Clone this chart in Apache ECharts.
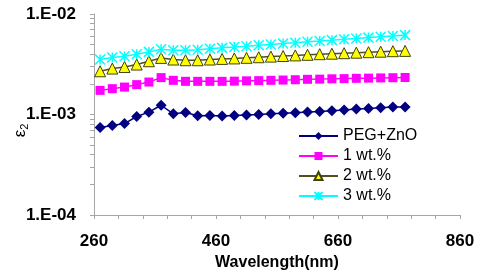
<!DOCTYPE html>
<html><head><meta charset="utf-8">
<script src="https://cdn.jsdelivr.net/npm/echarts@6/dist/echarts.min.js"></script>
<style>html,body{margin:0;padding:0;background:#fff}#c{width:480px;height:275px}</style>
</head><body><div id="c"></div>
<script>
const wavelengths = [270,290,310,330,350,370,390,410,430,450,470,490,510,530,550,570,590,610,630,650,670,690,710,730,750,770];
const pegZnO = [7.41e-4,7.76e-4,8.13e-4,9.55e-4,1.055e-3,1.236e-3,1.016e-3,1.047e-3,9.70e-4,9.77e-4,9.66e-4,9.77e-4,9.88e-4,1.0e-3,1.016e-3,1.028e-3,1.042e-3,1.059e-3,1.072e-3,1.091e-3,1.111e-3,1.132e-3,1.148e-3,1.170e-3,1.189e-3,1.189e-3];
const wt1 = [1.738e-3,1.807e-3,1.875e-3,1.982e-3,2.104e-3,2.328e-3,2.188e-3,2.138e-3,2.138e-3,2.138e-3,2.138e-3,2.148e-3,2.163e-3,2.173e-3,2.188e-3,2.203e-3,2.218e-3,2.239e-3,2.249e-3,2.265e-3,2.275e-3,2.291e-3,2.301e-3,2.312e-3,2.323e-3,2.333e-3];
const wt2 = [2.692e-3,2.864e-3,2.972e-3,3.141e-3,3.388e-3,3.656e-3,3.524e-3,3.467e-3,3.467e-3,3.524e-3,3.573e-3,3.614e-3,3.664e-3,3.715e-3,3.767e-3,3.819e-3,3.873e-3,3.926e-3,3.981e-3,4.027e-3,4.074e-3,4.121e-3,4.169e-3,4.217e-3,4.266e-3,4.295e-3];
const wt3 = [3.524e-3,3.690e-3,3.802e-3,3.981e-3,4.198e-3,4.467e-3,4.365e-3,4.365e-3,4.416e-3,4.519e-3,4.603e-3,4.699e-3,4.786e-3,4.887e-3,4.977e-3,5.082e-3,5.176e-3,5.284e-3,5.383e-3,5.495e-3,5.598e-3,5.715e-3,5.821e-3,5.943e-3,6.053e-3,6.166e-3];
const seriesNames = ['PEG+ZnO','1 wt.%','2 wt.%','3 wt.%'];
const xLabelValues = [260,460,660,860];
const xTickValues = [260,300,340,380,420,460,500,540,580,620,660,700,740,780,820,860];
const yMin = 1e-4, yMax = 1e-2;

const pair = arr => wavelengths.map((w,i)=>[w,arr[i]]);
const yTickLogs = [];
for (let d=-4; d<-2; d++) for (let k=1; k<10; k++) yTickLogs.push(d+Math.log10(k));
yTickLogs.push(-2);

const axisGray = '#a6a6a6';
const chart = echarts.init(document.getElementById('c'), null, {renderer:'canvas'});
chart.setOption({
  animation:false,
  backgroundColor:'#fff',
  grid:{left:94,right:20,top:14,bottom:60,outerBoundsMode:'none'},
  legend:{
    orient:'vertical', left:293, top:123, itemWidth:39, itemHeight:10, itemGap:4,
    textStyle:{fontFamily:'Liberation Sans, Arial', fontSize:16, color:'#000', lineHeight:16},
    data:seriesNames
  },
  xAxis:{
    type:'value', min:260, max:860,
    name:'Wavelength(nm)', nameLocation:'middle', nameGap:40, nameMoveOverlap:false,
    nameTextStyle:{fontFamily:'Liberation Sans, Arial', fontSize:16, fontWeight:'bold', color:'#000'},
    axisLine:{show:true, lineStyle:{color:axisGray, width:1}},
    axisTick:{show:true, length:4, lineStyle:{color:axisGray}, customValues:xTickValues},
    axisLabel:{customValues:xLabelValues, margin:18, fontFamily:'Liberation Sans, Arial', fontSize:17, fontWeight:'bold', color:'#000'},
    splitLine:{show:false}
  },
  yAxis:[{
    type:'log', logBase:10, min:yMin, max:yMax, position:'left',
    name:'{e|ε}{s|2}', nameLocation:'middle', nameGap:64, nameRotate:90, nameMoveOverlap:false,
    nameTextStyle:{color:'#000', padding:[0,32,0,0], rich:{
      e:{fontFamily:'Liberation Sans, Arial', fontSize:17, color:'#000'},
      s:{fontFamily:'Liberation Sans, Arial', fontSize:11, color:'#000', padding:[8,0,0,0]}
    }},
    axisLine:{show:true, lineStyle:{color:axisGray, width:1}},
    axisTick:{show:false},
    axisLabel:{margin:18, fontFamily:'Liberation Sans, Arial', fontSize:17, fontWeight:'bold', color:'#000',
      formatter:v=>'1.E-0'+Math.round(-Math.log10(v))},
    splitLine:{show:false}
  },{
    type:'value', min:-4, max:-2, position:'left',
    axisLine:{show:false},
    axisTick:{show:true, length:4, lineStyle:{color:axisGray}, customValues:yTickLogs},
    axisLabel:{show:false},
    splitLine:{show:false}
  }],
  series:[
    {name:seriesNames[0], type:'line', data:pair(pegZnO), symbol:'diamond', symbolSize:11,
      lineStyle:{color:'#000080', width:1.5}, itemStyle:{color:'#000080'}},
    {name:seriesNames[1], type:'line', data:pair(wt1), symbol:'rect', symbolSize:9,
      lineStyle:{color:'#ff00ff', width:1.5}, itemStyle:{color:'#ff00ff'}},
    {name:seriesNames[2], type:'line', data:pair(wt2), symbol:'triangle', symbolSize:11,
      lineStyle:{color:'#505020', width:1.5}, itemStyle:{color:'#ffff00', borderColor:'#404010', borderWidth:1}},
    {name:seriesNames[3], type:'line', data:pair(wt3), symbol:'path://M0,0L10,10M10,0L0,10M5,0L5,10', symbolSize:10,
      lineStyle:{color:'#00ffff', width:1.5}, itemStyle:{color:'#00ffff', borderColor:'#00ffff', borderWidth:1.5}}
  ]
});
</script></body></html>
